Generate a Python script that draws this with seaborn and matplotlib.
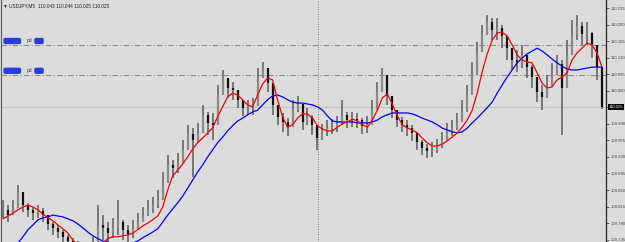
import numpy as np
import pandas as pd
import seaborn as sns
import matplotlib
matplotlib.use("Agg")
import matplotlib.pyplot as plt
from matplotlib.transforms import blended_transform_factory

# ---------------- data (USDJPY, M5) ----------------
high = [109.829, 109.818, 109.829, 109.861, 109.835, 109.823, 109.814, 109.818, 109.812, 109.793,
        109.782, 109.776, 109.766, 109.755, 109.749, 109.742, 109.738, 109.740, 109.751, 109.818,
        109.797, 109.782, 109.791, 109.829, 109.787, 109.776, 109.787, 109.801, 109.814, 109.829,
        109.835, 109.850, 109.888, 109.924, 109.914, 109.928, 109.956, 109.988, 109.981, 109.992,
        110.030, 110.015, 110.013, 110.072, 110.104, 110.083, 110.079, 110.062, 110.041, 110.041,
        110.045, 110.108, 110.121, 110.093, 110.066, 110.024, 110.013, 110.002, 110.041, 110.049,
        110.019, 110.024, 110.009, 109.981, 109.990, 109.998, 110.000, 110.007, 110.041, 110.015,
        110.015, 110.013, 110.002, 110.007, 110.041, 110.079, 110.108, 110.072, 110.041, 110.015,
        110.005, 109.998, 109.988, 109.971, 109.956, 109.947, 109.952, 109.958, 109.973, 109.992,
        109.998, 110.013, 110.041, 110.072, 110.121, 110.163, 110.199, 110.220, 110.214, 110.214,
        110.199, 110.176, 110.150, 110.146, 110.157, 110.136, 110.115, 110.087, 110.072, 110.093,
        110.119, 110.136, 110.125, 110.167, 110.210, 110.220, 110.205, 110.205, 110.184, 110.142,
        110.075]
low = [109.791, 109.782, 109.797, 109.818, 109.804, 109.793, 109.787, 109.791, 109.782, 109.766,
       109.755, 109.749, 109.736, 109.727, 109.719, 109.715, 109.711, 109.713, 109.723, 109.740,
       109.744, 109.740, 109.749, 109.755, 109.744, 109.740, 109.749, 109.766, 109.782, 109.795,
       109.801, 109.812, 109.840, 109.878, 109.876, 109.886, 109.909, 109.945, 109.878, 109.950,
       109.981, 109.966, 109.956, 110.019, 110.057, 110.045, 110.041, 110.024, 110.007, 110.009,
       110.009, 110.051, 110.087, 110.057, 110.009, 109.988, 109.973, 109.964, 109.994, 110.015,
       109.977, 109.988, 109.966, 109.935, 109.956, 109.964, 109.969, 109.973, 109.988, 109.981,
       109.983, 109.981, 109.969, 109.971, 109.998, 110.030, 110.066, 110.030, 110.002, 109.983,
       109.973, 109.964, 109.954, 109.935, 109.924, 109.918, 109.920, 109.928, 109.939, 109.956,
       109.964, 109.977, 109.994, 110.024, 110.057, 110.115, 110.150, 110.178, 110.167, 110.167,
       110.150, 110.125, 110.104, 110.100, 110.108, 110.087, 110.066, 110.036, 110.019, 110.045,
       110.068, 110.093, 109.966, 110.104, 110.146, 110.167, 110.157, 110.157, 110.129, 110.083,
       110.022]
close = [109.808, 109.797, 109.812, 109.846, 109.818, 109.808, 109.801, 109.806, 109.797, 109.778,
         109.770, 109.761, 109.751, 109.742, 109.734, 109.730, 109.725, 109.727, 109.736, 109.776,
         109.770, 109.759, 109.770, 109.782, 109.766, 109.757, 109.768, 109.782, 109.797, 109.810,
         109.818, 109.829, 109.865, 109.903, 109.897, 109.907, 109.935, 109.969, 109.956, 109.971,
         110.009, 109.992, 109.988, 110.051, 110.087, 110.066, 110.062, 110.041, 110.024, 110.026,
         110.028, 110.089, 110.108, 110.076, 110.030, 110.005, 109.994, 109.983, 110.019, 110.032,
         109.994, 110.005, 109.988, 109.960, 109.973, 109.981, 109.983, 109.990, 110.009, 109.998,
         110.000, 109.998, 109.986, 109.988, 110.019, 110.057, 110.093, 110.049, 110.019, 109.998,
         109.988, 109.981, 109.971, 109.952, 109.939, 109.933, 109.935, 109.943, 109.956, 109.975,
         109.981, 109.994, 110.015, 110.051, 110.093, 110.142, 110.178, 110.205, 110.189, 110.193,
         110.176, 110.150, 110.125, 110.121, 110.136, 110.110, 110.089, 110.057, 110.047, 110.068,
         110.093, 110.117, 110.066, 110.136, 110.178, 110.197, 110.180, 110.182, 110.157, 110.110,
         110.025]
ma_fast = [109.789, 109.795, 109.801, 109.808, 109.814, 109.818, 109.814, 109.808, 109.799, 109.791,
           109.785, 109.776, 109.768, 109.759, 109.744, 109.732, 109.723, 109.719, 109.721, 109.727,
           109.738, 109.747, 109.751, 109.751, 109.753, 109.755, 109.759, 109.766, 109.774, 109.780,
           109.787, 109.795, 109.814, 109.850, 109.880, 109.892, 109.905, 109.920, 109.937, 109.950,
           109.960, 109.971, 109.981, 110.005, 110.026, 110.047, 110.055, 110.051, 110.041, 110.030,
           110.026, 110.051, 110.074, 110.087, 110.083, 110.041, 110.005, 109.983, 109.988, 110.002,
           110.011, 110.011, 110.002, 109.986, 109.979, 109.975, 109.975, 109.983, 109.990, 109.994,
           110.000, 109.996, 109.988, 109.983, 109.998, 110.019, 110.045, 110.053, 110.032, 110.007,
           109.988, 109.981, 109.977, 109.971, 109.960, 109.950, 109.943, 109.943, 109.947, 109.954,
           109.962, 109.971, 109.983, 109.998, 110.019, 110.055, 110.100, 110.138, 110.167, 110.182,
           110.184, 110.176, 110.157, 110.136, 110.125, 110.121, 110.119, 110.098, 110.076, 110.066,
           110.068, 110.083, 110.089, 110.098, 110.125, 110.140, 110.150, 110.161, 110.157, 110.140,
           110.110]
ma_slow = [109.713, 109.721, 109.730, 109.738, 109.751, 109.766, 109.776, 109.787, 109.791, 109.793,
           109.797, 109.795, 109.793, 109.789, 109.785, 109.778, 109.770, 109.761, 109.753, 109.747,
           109.742, 109.740, 109.736, 109.734, 109.732, 109.734, 109.738, 109.742, 109.749, 109.755,
           109.761, 109.768, 109.782, 109.797, 109.810, 109.823, 109.837, 109.854, 109.871, 109.888,
           109.903, 109.920, 109.935, 109.950, 109.962, 109.975, 109.986, 109.996, 110.002, 110.009,
           110.015, 110.019, 110.030, 110.041, 110.049, 110.051, 110.047, 110.041, 110.036, 110.034,
           110.034, 110.032, 110.030, 110.026, 110.019, 110.007, 109.996, 109.994, 109.994, 109.994,
           109.994, 109.992, 109.992, 109.992, 109.994, 109.998, 110.005, 110.009, 110.013, 110.013,
           110.013, 110.013, 110.011, 110.007, 110.002, 109.998, 109.994, 109.988, 109.981, 109.977,
           109.973, 109.971, 109.973, 109.981, 109.992, 110.002, 110.013, 110.024, 110.036, 110.055,
           110.072, 110.089, 110.104, 110.119, 110.129, 110.138, 110.144, 110.150, 110.144, 110.136,
           110.127, 110.119, 110.112, 110.106, 110.104, 110.104, 110.106, 110.108, 110.110, 110.110,
           110.110]
level_lines = [110.157, 110.094]
current_price = 110.025
y_ticks = [110.235, 110.200, 110.165, 110.130, 110.095, 110.060, 110.025, 109.990,
           109.955, 109.920, 109.885, 109.850, 109.815, 109.780, 109.745]
header = "USDJPY,M5  110.043 110.044 110.025 110.025"
cursor_bar = 63.2

# ---------------- figure ----------------
BG = "#dcdcdc"
sns.set_theme(style="white", rc={"axes.facecolor": BG, "figure.facecolor": BG})
plt.rcParams["font.family"] = ["Liberation Sans", "DejaVu Sans"]

W, H = 625, 242
fig = plt.figure(figsize=(W / 100, H / 100), dpi=100)
ax = fig.add_axes([1 / W, 0, 605 / W, 1])
ax.set_facecolor(BG)

n = len(close)
x = np.arange(n)
df = pd.DataFrame({"bar": x, "high": high, "low": low, "close": close,
                   "fast": ma_fast, "slow": ma_slow})
opens = np.r_[close[0], close[:-1]]
up = df["close"].values >= opens

# reference lines
for lv in level_lines:
    ax.axhline(lv, color="#7f967f", lw=0.8, ls=(0, (5, 2, 1, 2)), zorder=1)
ax.axhline(current_price, color="#c4c4c4", lw=0.8, zorder=1)
ax.axvline(cursor_bar, color="#555555", lw=0.6, ls=(0, (1, 2)), zorder=1)

# candles
ax.vlines(df["bar"], df["low"], df["high"], color="#666666", lw=1.2, zorder=3)
body_lo = np.minimum(opens, df["close"].values)
body_hi = np.maximum(opens, df["close"].values)
ax.vlines(df["bar"][~up], body_lo[~up], body_hi[~up], color="#111111", lw=1.6, zorder=4)
ax.vlines(df["bar"][up], body_lo[up], body_hi[up], color="#8a8a8a", lw=1.6, zorder=4)

# moving averages
sns.lineplot(data=df, x="bar", y="slow", color="#0000ff", lw=0.9, ax=ax, zorder=5)
sns.lineplot(data=df, x="bar", y="fast", color="#ff0000", lw=0.9, ax=ax, zorder=6)

ax.set_xlim(-0.4, 120.8)
ax.set_ylim(109.740, 110.252)
ax.set_xlabel("")
ax.set_ylabel("")
ax.set_xticks([])
ax.yaxis.tick_right()
ax.set_yticks(y_ticks)
ax.set_yticklabels(["" if abs(v - current_price) < 1e-9 else f"{v:.3f}" for v in y_ticks])
ax.tick_params(axis="y", direction="out", length=2, width=0.6, labelsize=3.1,
               pad=1.0, colors="#444444", right=True)
for s in ["top", "bottom"]:
    ax.spines[s].set_visible(False)
ax.spines["right"].set_color("#222222")
ax.spines["right"].set_linewidth(0.9)
ax.spines["left"].set_color("#555555")
ax.spines["left"].set_linewidth(0.8)

# current price tag
tr = blended_transform_factory(ax.transAxes, ax.transData)
ax.text(1.0045, current_price, f"{current_price:.3f}", transform=tr, fontsize=3.1,
        color="white", va="center", ha="left", zorder=10,
        bbox=dict(boxstyle="square,pad=0.2", fc="black", ec="none"), clip_on=False)

# header
ax.text(0.004, 0.985, "\u25bc " + header, transform=ax.transAxes, fontsize=3.4,
        color="#222222", va="top", ha="left")

# level labels (highlighted objects)
for lv in level_lines:
    ax.text(0.005, lv + 0.003, "xxxxxx", transform=tr, fontsize=4, color="#2a3ee0",
            va="bottom", ha="left", zorder=8,
            bbox=dict(boxstyle="round,pad=0.12,rounding_size=0.35", fc="#2a3ee0", ec="none"))
    ax.text(0.043, lv + 0.003, "pd", transform=tr, fontsize=3.5, color="#333333",
            va="bottom", ha="left", zorder=8)
    ax.text(0.056, lv + 0.003, "xxx", transform=tr, fontsize=4, color="#2a3ee0",
            va="bottom", ha="left", zorder=8,
            bbox=dict(boxstyle="round,pad=0.12,rounding_size=0.35", fc="#2a3ee0", ec="none"))

fig.savefig("out.png", dpi=100, facecolor=BG)
